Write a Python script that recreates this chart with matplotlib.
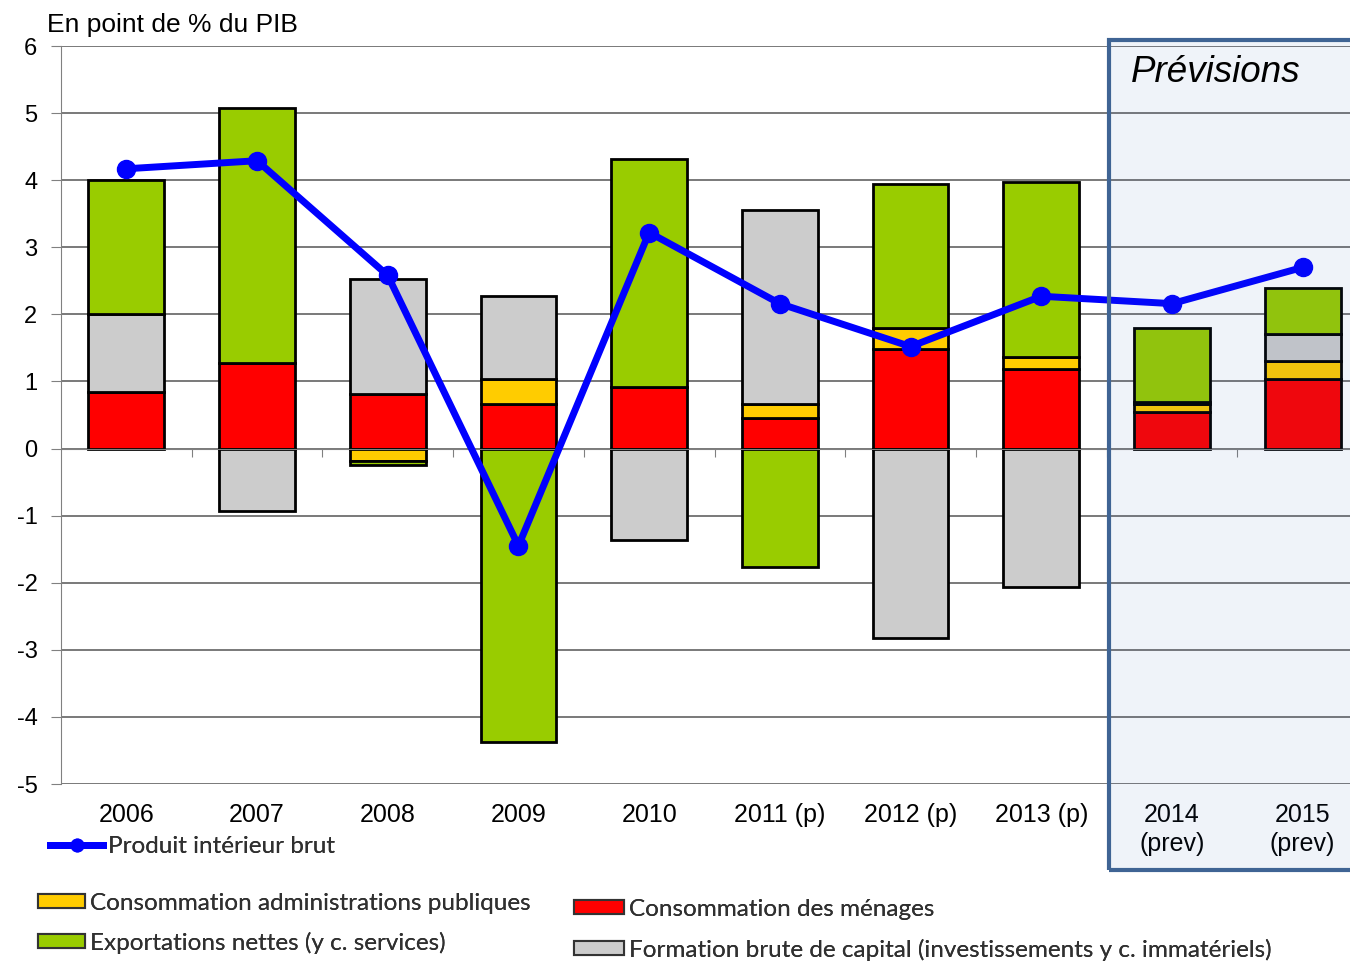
import numpy as np
import matplotlib
matplotlib.use("Agg")
import matplotlib.pyplot as plt
from matplotlib.patches import Rectangle, Patch
from matplotlib.lines import Line2D
import matplotlib.transforms as mtransforms

# ---- data ----
categories = ['2006', '2007', '2008', '2009', '2010', '2011 (p)', '2012 (p)',
              '2013 (p)', '2014\n(prev)', '2015\n(prev)']
menages = [0.84, 1.28, 0.82, 0.67, 0.91, 0.45, 1.49, 1.19, 0.55, 1.04]
admin_pub = [0.0, 0.0, -0.19, 0.37, 0.0, 0.21, 0.31, 0.17, 0.11, 0.26]
fbcf = [1.16, -0.93, 1.71, 1.23, -1.36, 2.90, -2.82, -2.06, 0.03, 0.40]
exports = [2.00, 3.80, -0.06, -4.38, 3.41, -1.76, 2.15, 2.62, 1.11, 0.70]
pib = [4.17, 4.29, 2.58, -1.45, 3.22, 2.16, 1.52, 2.27, 2.16, 2.70]

series_labels = ['Consommation des ménages', 'Consommation administrations publiques',
                 'Formation brute de capital (investissements y c. immatériels)',
                 'Exportations nettes (y c. services)']
pib_label = 'Produit intérieur brut'
yticks = [-5, -4, -3, -2, -1, 0, 1, 2, 3, 4, 5, 6]

colors = ['#FF0000', '#FFCC00', '#CCCCCC', '#99CC00']

plt.rcParams['font.family'] = ['Liberation Sans', 'DejaVu Sans']

W, H = 1350, 963
fig = plt.figure(figsize=(W / 100, H / 100), dpi=100)
ax = fig.add_axes([61 / W, 1 - 784 / H, (1368 - 61) / W, (784 - 46) / H])

x = np.arange(len(categories))
pos_bottom = np.zeros(len(x))
neg_bottom = np.zeros(len(x))
for vals, c in zip([menages, admin_pub, fbcf, exports], colors):
    v = np.array(vals, dtype=float)
    bottoms = np.where(v >= 0, pos_bottom, neg_bottom)
    ax.bar(x, v, 0.58, bottom=bottoms, color=c, edgecolor='black', linewidth=2.0, zorder=2)
    pos_bottom += np.where(v >= 0, v, 0)
    neg_bottom += np.where(v < 0, v, 0)

ax.plot(x, pib, color='#0000FF', linewidth=5, marker='o', markersize=13, zorder=3)

ax.set_xlim(-0.5, len(x) - 0.5)
ax.set_ylim(-5, 6)
ax.set_yticks(yticks)
ax.set_yticklabels([str(t) for t in yticks], fontsize=17)
ax.yaxis.grid(True, color='#555555', linewidth=1.1)
ax.set_axisbelow(True)
ax.tick_params(axis='y', length=7, color='#808080', pad=10)

for s in ['top', 'right']:
    ax.spines[s].set_visible(False)
ax.spines['left'].set_color('#808080')
ax.spines['bottom'].set_position(('data', 0))
ax.spines['bottom'].set_color('#808080')
ax.set_xticks(np.arange(0.5, len(x) - 1, 1))
ax.set_xticklabels([])
ax.tick_params(axis='x', length=6, color='#808080', direction='out')

trans = mtransforms.blended_transform_factory(ax.transData, fig.transFigure)
for xi, lab in zip(x, categories):
    ax.text(xi, 1 - 803 / H, lab, transform=trans, ha='center', va='top',
            fontsize=18, linespacing=1.25, clip_on=False)

fig.text(47 / W, 1 - 25 / H, 'En point de % du PIB', fontsize=19, va='center', ha='left')

# forecast box
fig.patches.append(Rectangle((1109 / W, 1 - 870 / H), 0.2, (870 - 40) / H,
                             transform=fig.transFigure, facecolor='#2F5FB0', alpha=0.075,
                             edgecolor='none', zorder=5))
fig.patches.append(Rectangle((1109 / W, 1 - 870 / H), 0.2, (870 - 40) / H,
                             transform=fig.transFigure, facecolor='none',
                             edgecolor='#3F6494', linewidth=3, zorder=6))
fig.text(1131 / W, 1 - 73 / H, 'Prévisions', fontsize=26.5, style='italic',
         va='center', ha='left', zorder=7)

# legends
lfont = {'family': ['Lato', 'DejaVu Sans'], 'size': 17.5}
def add_leg(handle, label, xpx, ypx, hl):
    lg = fig.legend([handle], [label], loc='center left',
                    bbox_to_anchor=(xpx / W, 1 - ypx / H), frameon=False,
                    borderpad=0, borderaxespad=0, handlelength=hl, handleheight=0.5,
                    handletextpad=0.2, prop=lfont)
    for t in lg.get_texts():
        t.set_color('#303030')
    fig.add_artist(lg)

add_leg(Line2D([], [], color='#0000FF', lw=5, marker='o', markersize=9),
        pib_label, 50, 846, 2.2)
add_leg(Patch(facecolor=colors[1], edgecolor='#333333', lw=1.5), series_labels[1], 38, 903, 1.95)
add_leg(Patch(facecolor=colors[3], edgecolor='#333333', lw=1.5), series_labels[3], 38, 943, 1.95)
add_leg(Patch(facecolor=colors[0], edgecolor='#333333', lw=1.5), series_labels[0], 574, 909, 2.05)
add_leg(Patch(facecolor=colors[2], edgecolor='#333333', lw=1.5), series_labels[2], 574, 950, 2.05)

fig.savefig('out.png', dpi=100)
